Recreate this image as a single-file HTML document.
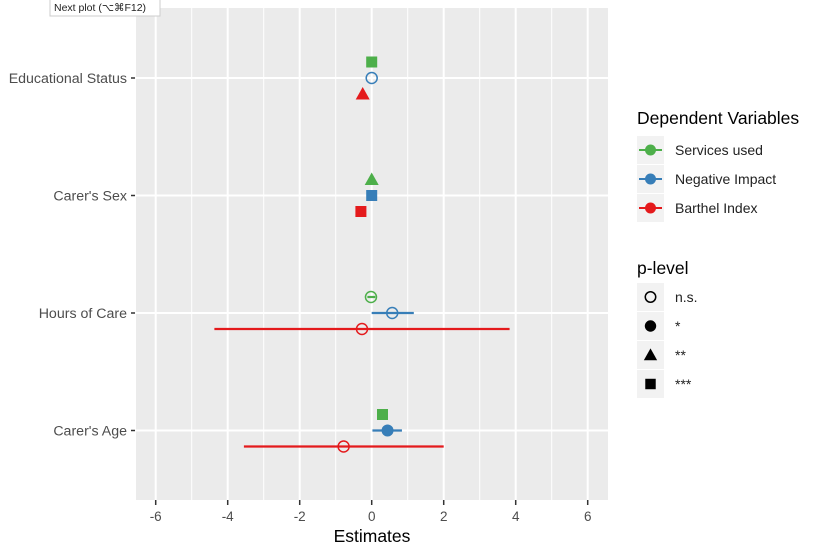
<!DOCTYPE html>
<html><head><meta charset="utf-8"><style>
body{margin:0;background:#fff;font-family:"Liberation Sans",Arial,sans-serif}
svg text{font-family:"Liberation Sans",Arial,sans-serif}
</style></head><body>
<svg id="c" width="826" height="550" xmlns="http://www.w3.org/2000/svg">
<rect id="panel" x="136" y="8" width="472" height="492" fill="#ebebeb"/>
<g id="grid"></g><g id="marks"></g><g id="axes"></g><g id="legend"></g>
<g>
<rect x="50" y="-1" width="110" height="17" fill="#fff" stroke="#ccc"/>
<text x="54" y="11" font-size="10.5" fill="#222">Next plot (⌥⌘F12)</text>
</g>
</svg>
<script>
const categories=["Educational Status","Carer's Sex","Hours of Care","Carer's Age"];
const seriesNames=["Services used","Negative Impact","Barthel Index"];
const seriesColors=["#4daf4a","#377eb8","#e41a1c"];
const servicesEst=[0,0,-0.02,0.3];
const servicesLo=[null,null,-0.12,null];
const servicesHi=[null,null,0.1,null];
const servicesP=["***","**","n.s.","***"];
const negativeEst=[0,0,0.57,0.44];
const negativeLo=[null,null,0,0.02];
const negativeHi=[null,null,1.17,0.84];
const negativeP=["n.s.","***","n.s.","*"];
const barthelEst=[-0.25,-0.3,-0.27,-0.78];
const barthelLo=[null,null,-4.37,-3.55];
const barthelHi=[null,null,3.83,2.0];
const barthelP=["**","***","n.s.","n.s."];
const xTicks=[-6,-4,-2,0,2,4,6];
const pLevels=["n.s.","*","**","***"];

const NS="http://www.w3.org/2000/svg";
function mk(tag,attrs,parent){const e=document.createElementNS(NS,tag);for(const k in attrs)e.setAttribute(k,attrs[k]);parent.appendChild(e);return e;}
const x=v=>371.7+v*36;
const y=i=>78+i*117.5;
const dodge=[-16,0,16];
const grid=document.getElementById('grid'),marks=document.getElementById('marks'),axes=document.getElementById('axes'),legend=document.getElementById('legend');
for(let v=-7;v<=7;v++){if(x(v)<136||x(v)>608)continue;const major=v%2===0;
 const l=mk('line',{x1:x(v),x2:x(v),y1:8,y2:500,stroke:'#fff','stroke-width':major?2:1},grid);
 }
categories.forEach((c,i)=>{
 const l=mk('line',{x1:136,x2:608,y1:y(i),y2:y(i),stroke:'#fff','stroke-width':2},grid);
 
 const t=mk('line',{x1:131,x2:135,y1:y(i),y2:y(i),stroke:'#333','stroke-width':1.5},axes);
 
 const tx=mk('text',{x:127,y:y(i)+5,'text-anchor':'end','font-size':14.2,fill:'#4d4d4d'},axes);tx.textContent=c;
 
});
xTicks.forEach(v=>{
 const t=mk('line',{x1:x(v),x2:x(v),y1:500,y2:505,stroke:'#333','stroke-width':1.5},axes);
 
 const tx=mk('text',{x:x(v),y:521,'text-anchor':'middle','font-size':13.5,fill:'#4d4d4d'},axes);tx.textContent=v;
 
});
const xt=mk('text',{x:372,y:542,'text-anchor':'middle','font-size':17.5,fill:'#000'},axes);xt.textContent='Estimates';


function shape(p,cx,cy,col,parent,s){s=s||1;let e;
 if(p==='n.s.')e=mk('circle',{cx,cy,r:5.5*s,fill:'none',stroke:col,'stroke-width':1.5},parent);
 else if(p==='*')e=mk('circle',{cx,cy,r:6*s,fill:col},parent);
 else if(p==='**')e=mk('polygon',{points:`${cx},${cy-7*s} ${cx+7*s},${cy+5.5*s} ${cx-7*s},${cy+5.5*s}`,fill:col},parent);
 else e=mk('rect',{x:cx-5.5*s,y:cy-5.5*s,width:11*s,height:11*s,fill:col},parent);
 return e;}
const series=[[servicesEst,servicesLo,servicesHi,servicesP],[negativeEst,negativeLo,negativeHi,negativeP],[barthelEst,barthelLo,barthelHi,barthelP]];
series.forEach((s,si)=>{const [est,lo,hi,p]=s;const col=seriesColors[si];
 est.forEach((v,i)=>{const cy=y(i)+dodge[si];
  if(lo[i]!==null){const l=mk('line',{x1:x(lo[i]),x2:x(hi[i]),y1:cy,y2:cy,stroke:col,'stroke-width':2.2},marks);
   }
  const m=shape(p[i],x(v),cy,col,marks);
  
 });});
let t=mk('text',{x:637,y:124,'font-size':17.5,fill:'#000'},legend);t.textContent='Dependent Variables';

seriesNames.forEach((n,i)=>{const cy=150+i*29;
 const g=mk('g',{},legend);
 mk('rect',{x:637,y:cy-14,width:27,height:28,fill:'#f2f2f2'},g);
 mk('line',{x1:639,x2:662,y1:cy,y2:cy,stroke:seriesColors[i],'stroke-width':2},g);
 mk('circle',{cx:650.5,cy,r:5.5,fill:seriesColors[i]},g);
 const tx=mk('text',{x:675,y:cy+5,'font-size':14,fill:'#222'},g);tx.textContent=n;});
t=mk('text',{x:637,y:274,'font-size':17.5,fill:'#000'},legend);t.textContent='p-level';

pLevels.forEach((n,i)=>{const cy=297+i*29;
 const g=mk('g',{},legend);
 mk('rect',{x:637,y:cy-14,width:27,height:28,fill:'#f2f2f2'},g);
 shape(n,650.5,cy,'#000',g,0.95);
 const tx=mk('text',{x:675,y:cy+5,'font-size':14,fill:'#222'},g);tx.textContent=n;});
</script>
</body></html>
